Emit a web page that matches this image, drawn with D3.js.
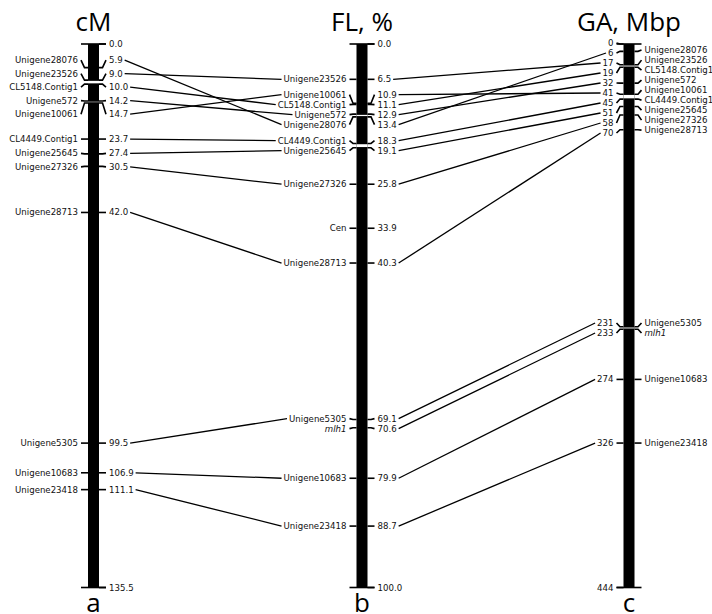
<!DOCTYPE html>
<html>
<head>
<meta charset="utf-8">
<script src="https://cdn.jsdelivr.net/npm/d3@7"></script>
<style>
  body { margin: 0; background: #fff; }
  svg text { font-family: "DejaVu Sans", sans-serif; }
</style>
</head>
<body>
<svg id="chart" width="712" height="614"></svg>
<script>
// map a: genetic map, cM
const aNames = ["Unigene28076", "Unigene23526", "CL5148.Contig1", "Unigene572", "Unigene10061",
  "CL4449.Contig1", "Unigene25645", "Unigene27326", "Unigene28713", "Unigene5305",
  "Unigene10683", "Unigene23418"];
const aPos = [5.9, 9.0, 10.0, 14.2, 14.7, 23.7, 27.4, 30.5, 42.0, 99.5, 106.9, 111.1];
const aLength = 135.5;

// map b: FL, %
const bNames = ["Unigene23526", "Unigene10061", "CL5148.Contig1", "Unigene572", "Unigene28076",
  "CL4449.Contig1", "Unigene25645", "Unigene27326", "Cen", "Unigene28713", "Unigene5305",
  "mlh1", "Unigene10683", "Unigene23418"];
const bPos = [6.5, 10.9, 11.1, 12.9, 13.4, 18.3, 19.1, 25.8, 33.9, 40.3, 69.1, 70.6, 79.9, 88.7];
const bLength = 100.0;

// map c: GA, Mbp
const cNames = ["Unigene28076", "Unigene23526", "CL5148.Contig1", "Unigene572", "Unigene10061",
  "CL4449.Contig1", "Unigene25645", "Unigene27326", "Unigene28713", "Unigene5305", "mlh1",
  "Unigene10683", "Unigene23418"];
const cPos = [6, 17, 19, 32, 41, 45, 51, 58, 70, 231, 233, 274, 326];
const cLength = 444;

const units = ["cM", "FL, %", "GA, Mbp"];
const panels = ["a", "b", "c"];

const svg = d3.select("#chart");
const yTop = 44, yBottom = 587.5;
const barW = 11, tickOut = 7, bend = 3.5, textPad = 10;

const maps = [
  { names: aNames, pos: aPos, len: aLength, cx: 93.5, fmt: d3.format(".1f"), nameSide: "left", gap: 13.5 },
  { names: bNames, pos: bPos, len: bLength, cx: 362, fmt: d3.format(".1f"), nameSide: "left", gap: 10 },
  { names: cNames, pos: cPos, len: cLength, cx: 629, fmt: d3.format("d"), nameSide: "right", gap: 10 }
];

// push overlapping labels apart, keeping each cluster centred on its markers
function spread(ys, gap, lo) {
  const order = d3.range(ys.length).sort((i, j) => ys[i] - ys[j]);
  const clusters = [];
  order.forEach(i => {
    clusters.push({ sum: ys[i], idx: [i] });
    while (clusters.length > 1) {
      const c = clusters[clusters.length - 1], p = clusters[clusters.length - 2];
      const cTop = c.sum / c.idx.length - (c.idx.length - 1) * gap / 2;
      const pBot = p.sum / p.idx.length + (p.idx.length - 1) * gap / 2;
      if (cTop - pBot < gap) {
        p.sum += c.sum;
        p.idx = p.idx.concat(c.idx);
        clusters.pop();
      } else break;
    }
  });
  const out = new Array(ys.length);
  clusters.forEach(c => {
    const n = c.idx.length, start = c.sum / n - (n - 1) * gap / 2;
    c.idx.forEach((i, k) => { out[i] = start + k * gap; });
  });
  // keep the first label from climbing above the top of the bar
  let prev = lo - gap;
  order.forEach(i => {
    if (out[i] < prev + gap) out[i] = prev + gap;
    prev = out[i];
  });
  return out;
}

maps.forEach((m, mi) => {
  const y = d3.scaleLinear().domain([0, m.len]).range([yTop, yBottom]);
  const g = svg.append("g");
  const left = m.cx - barW / 2, right = m.cx + barW / 2;

  g.append("rect")
    .attr("x", left).attr("y", y(0))
    .attr("width", barW).attr("height", y(m.len) - y(0))
    .attr("fill", "#000");

  // white split between ticks that sit almost on top of each other
  const sorted = m.pos.slice().sort((p, q) => p - q);
  for (let i = 1; i < sorted.length; i++) {
    const y0 = y(sorted[i - 1]), y1 = y(sorted[i]);
    if (y1 - y0 < 5 && y1 - y0 > 1.6) {
      g.append("line")
        .attr("x1", left).attr("x2", right)
        .attr("y1", (y0 + y1) / 2).attr("y2", (y0 + y1) / 2)
        .attr("stroke", "#fff").attr("stroke-width", y1 - y0 - 1.5);
    }
  }

  // caps at both ends
  [0, m.len].forEach(v => {
    g.append("line")
      .attr("x1", left - tickOut).attr("x2", right + tickOut)
      .attr("y1", y(v)).attr("y2", y(v))
      .attr("stroke", "#000").attr("stroke-width", 1.6);
  });

  const numItems = [{ v: 0, text: m.fmt(0) }]
    .concat(m.pos.map((v, i) => ({ v: v, text: m.fmt(v), name: m.names[i] })))
    .concat([{ v: m.len, text: m.fmt(m.len) }]);
  const nameItems = m.pos.map((v, i) => ({ v: v, text: m.names[i], name: m.names[i], italic: m.names[i] === "mlh1" }));

  const sides = m.nameSide === "left"
    ? { left: nameItems, right: numItems }
    : { left: numItems, right: nameItems };

  m.labels = { left: {}, right: {} };

  ["left", "right"].forEach(side => {
    const items = sides[side];
    const dir = side === "left" ? -1 : 1;
    const edge = side === "left" ? left : right;
    const ly = spread(items.map(d => y(d.v)), m.gap, yTop - 1);
    items.forEach((d, i) => {
      const yt = y(d.v);
      g.append("path")
        .attr("d", `M${edge},${yt}H${edge + dir * bend}L${edge + dir * tickOut},${ly[i]}`)
        .attr("fill", "none").attr("stroke", "#000").attr("stroke-width", 1.6);
      const t = g.append("text")
        .attr("x", edge + dir * textPad).attr("y", ly[i])
        .attr("dy", "0.35em")
        .attr("text-anchor", side === "left" ? "end" : "start")
        .attr("font-size", "8.6px")
        .attr("fill", "#111")
        .style("font-style", d.italic ? "italic" : null)
        .text(d.text);
      if (d.name) {
        const w = t.node().getComputedTextLength();
        const x = edge + dir * textPad;
        m.labels[side][d.name] = { y: ly[i], x0: side === "left" ? x - w : x, x1: side === "left" ? x : x + w };
      }
    });
  });

  svg.append("text")
    .attr("x", m.cx).attr("y", 31)
    .attr("text-anchor", "middle")
    .style("font-family", "'Open Sans', sans-serif")
    .attr("font-size", "26px")
    .text(units[mi]);

  svg.append("text")
    .attr("x", m.cx).attr("y", 612)
    .attr("text-anchor", "middle")
    .style("font-family", "'Open Sans', sans-serif")
    .attr("font-size", "26px")
    .text(panels[mi]);
});

// lines joining the same marker in neighbouring maps
for (let k = 0; k < maps.length - 1; k++) {
  const from = maps[k].labels.right, to = maps[k + 1].labels.left;
  Object.keys(from).forEach(name => {
    if (!to[name]) return;
    svg.append("line")
      .attr("x1", from[name].x1 + 2).attr("y1", from[name].y)
      .attr("x2", to[name].x0 - 2).attr("y2", to[name].y)
      .attr("stroke", "#000").attr("stroke-width", 1.3);
  });
}
</script>
</body>
</html>
